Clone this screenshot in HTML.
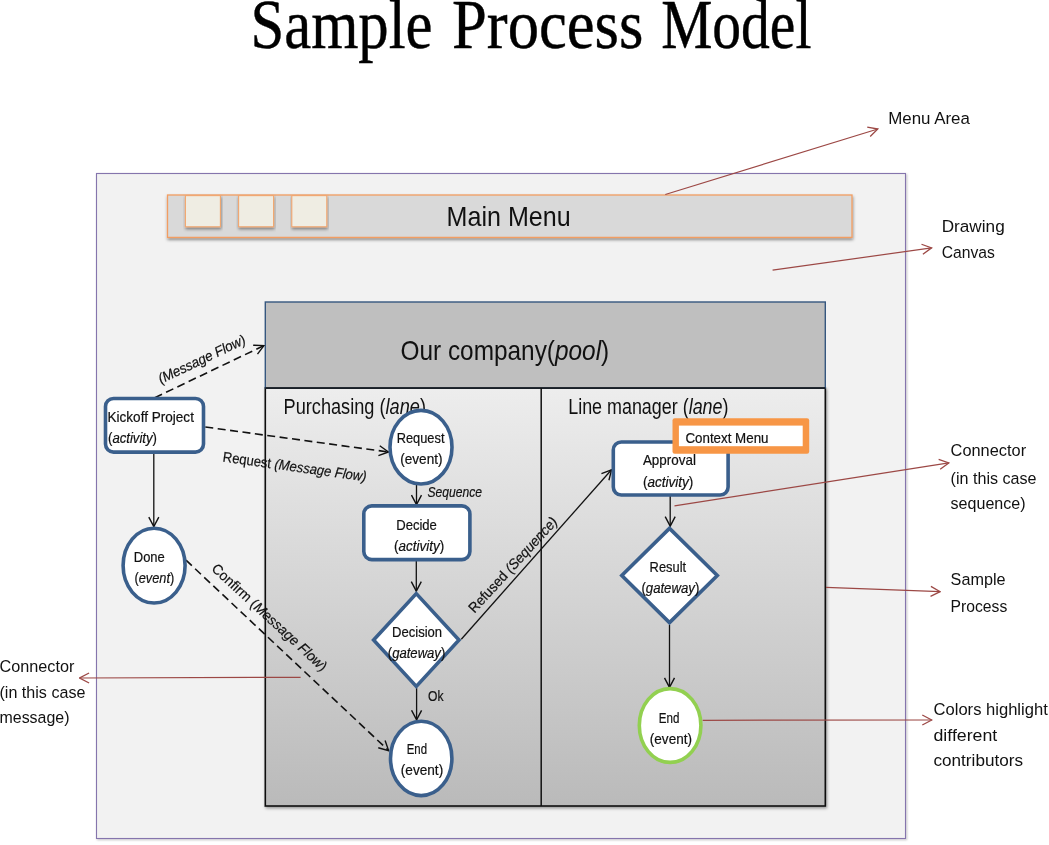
<!DOCTYPE html>
<html lang="en"><head><meta charset="utf-8"><title>Sample Process Model</title>
<style>html,body{margin:0;padding:0;background:#fff}body{width:1049px;height:845px;overflow:hidden}svg{display:block;will-change:transform}text{white-space:pre}</style>
</head><body>
<svg width="1049" height="845" viewBox="0 0 1049 845" font-family='"Liberation Sans", Arial, sans-serif'>
<defs>
<linearGradient id="lane" x1="0" y1="0" x2="0" y2="1"><stop offset="0" stop-color="#ededed"/><stop offset="1" stop-color="#bababa"/></linearGradient>
<filter id="sh" x="-5%" y="-20%" width="110%" height="150%"><feDropShadow dx="0.5" dy="2" stdDeviation="1.4" flood-color="#000" flood-opacity="0.42"/></filter>
<filter id="sh2" x="-5%" y="-5%" width="110%" height="110%"><feDropShadow dx="1" dy="1.5" stdDeviation="1.5" flood-color="#000" flood-opacity="0.4"/></filter>
<filter id="sh3" x="-5%" y="-5%" width="110%" height="110%"><feDropShadow dx="1" dy="1" stdDeviation="1.2" flood-color="#000" flood-opacity="0.25"/></filter>
<marker id="ab" viewBox="0 0 12 12" refX="11" refY="6" markerWidth="12" markerHeight="12" markerUnits="userSpaceOnUse" orient="auto"><path d="M1.5,1 L11,6 L1.5,11" fill="none" stroke="#111" stroke-width="1.4"/></marker>
<marker id="ar" viewBox="0 0 12 12" refX="11" refY="6" markerWidth="12" markerHeight="12" markerUnits="userSpaceOnUse" orient="auto"><path d="M1.5,1 L11,6 L1.5,11" fill="none" stroke="#9c4845" stroke-width="1.3"/></marker>
</defs>
<rect width="1049" height="845" fill="#fff"/>
<text x="250.5" y="47.5" font-size="70" fill="#000" textLength="182" lengthAdjust="spacingAndGlyphs" font-family='"Liberation Serif", "Times New Roman", serif' stroke="#000" stroke-width="0.45">Sample</text>
<text x="452" y="47.5" font-size="70" fill="#000" textLength="191.3" lengthAdjust="spacingAndGlyphs" font-family='"Liberation Serif", "Times New Roman", serif' stroke="#000" stroke-width="0.45">Process</text>
<text x="661.2" y="47.5" font-size="70" fill="#000" textLength="150.2" lengthAdjust="spacingAndGlyphs" font-family='"Liberation Serif", "Times New Roman", serif' stroke="#000" stroke-width="0.45">Model</text>
<rect x="96.5" y="173.5" width="809" height="665" fill="#f2f2f2" stroke="#8574ad" stroke-width="1.1" filter="url(#sh3)"/>
<rect x="167.5" y="195" width="684.5" height="42.4" fill="#d9d9d9" stroke="#f29d62" stroke-width="1.3" filter="url(#sh)"/>
<rect x="185.4" y="195.6" width="35" height="31.2" fill="#efede3" stroke="#f2a66f" stroke-width="1.1" filter="url(#sh)"/>
<rect x="238.6" y="195.6" width="35" height="31.2" fill="#efede3" stroke="#f2a66f" stroke-width="1.1" filter="url(#sh)"/>
<rect x="291.8" y="195.6" width="35" height="31.2" fill="#efede3" stroke="#f2a66f" stroke-width="1.1" filter="url(#sh)"/>
<text x="446.6" y="226.4" font-size="28" fill="#111" textLength="124" lengthAdjust="spacingAndGlyphs">Main Menu</text>
<g filter="url(#sh2)"><rect x="265.3" y="388" width="560" height="418" fill="url(#lane)" stroke="#111" stroke-width="1.6"/></g>
<rect x="265.3" y="302" width="560" height="86" fill="#bfbfbf" stroke="#36577f" stroke-width="1.4"/>
<line x1="265.3" y1="388" x2="825.3" y2="388" stroke="#111" stroke-width="1.6"/>
<line x1="541.2" y1="388" x2="541.2" y2="806" stroke="#111" stroke-width="1.5"/>
<text x="400.5" y="359.6" font-size="27.5" fill="#111" textLength="208.7" lengthAdjust="spacingAndGlyphs">Our company(<tspan font-style="italic">pool</tspan>)</text>
<text x="283.5" y="414" font-size="22" fill="#111" textLength="142.5" lengthAdjust="spacingAndGlyphs">Purchasing (<tspan font-style="italic">lane</tspan>)</text>
<text x="568.2" y="414.1" font-size="22" fill="#111" textLength="160.3" lengthAdjust="spacingAndGlyphs">Line manager (<tspan font-style="italic">lane</tspan>)</text>
<line x1="154.8" y1="397.7" x2="263.9" y2="345.6" stroke="#111" stroke-width="1.6" stroke-dasharray="8 4.5" marker-end="url(#ab)"/>
<line x1="205.3" y1="427" x2="388.5" y2="452" stroke="#111" stroke-width="1.6" stroke-dasharray="8 4.5" marker-end="url(#ab)"/>
<line x1="153.8" y1="453" x2="153.8" y2="526.6" stroke="#111" stroke-width="1.3" marker-end="url(#ab)"/>
<line x1="186" y1="560.2" x2="388.6" y2="750.6" stroke="#111" stroke-width="1.6" stroke-dasharray="8 4.5" marker-end="url(#ab)"/>
<line x1="416.5" y1="485" x2="416.5" y2="504.6" stroke="#111" stroke-width="1.3" marker-end="url(#ab)"/>
<line x1="416.3" y1="561" x2="416.3" y2="591.2" stroke="#111" stroke-width="1.3" marker-end="url(#ab)"/>
<line x1="416.6" y1="688" x2="416.6" y2="719.8" stroke="#111" stroke-width="1.3" marker-end="url(#ab)"/>
<line x1="461.3" y1="639.2" x2="611.5" y2="469.8" stroke="#111" stroke-width="1.3" marker-end="url(#ab)"/>
<line x1="670.2" y1="496" x2="670.2" y2="526.2" stroke="#111" stroke-width="1.3" marker-end="url(#ab)"/>
<line x1="669.5" y1="625" x2="669.5" y2="687.4" stroke="#111" stroke-width="1.3" marker-end="url(#ab)"/>
<rect x="105.5" y="398.5" width="98.0" height="53.6" rx="8" ry="8" fill="#fff" stroke="#3a5f8c" stroke-width="3.6"/>
<ellipse cx="154.1" cy="565.6" rx="31.0" ry="37.4" fill="#fff" stroke="#3a5f8c" stroke-width="3.6"/>
<ellipse cx="421.0" cy="447.2" rx="31.0" ry="36.8" fill="#fff" stroke="#3a5f8c" stroke-width="3.6"/>
<rect x="363.8" y="505.9" width="106.1" height="53.7" rx="8" ry="8" fill="#fff" stroke="#3a5f8c" stroke-width="3.6"/>
<polygon points="416.3,593.6 459.0,640.0 416.3,686.4 373.6,640.0" fill="#fff" stroke="#3a5f8c" stroke-width="3.6" stroke-linejoin="miter"/>
<ellipse cx="421.2" cy="758.4" rx="30.7" ry="37.2" fill="#fff" stroke="#3a5f8c" stroke-width="3.6"/>
<rect x="613.3" y="442.0" width="114.8" height="53.0" rx="8" ry="8" fill="#fff" stroke="#3a5f8c" stroke-width="3.6"/>
<polygon points="669.5,528.4 717.3,575.5 669.5,622.6 621.8,575.5" fill="#fff" stroke="#3a5f8c" stroke-width="3.6" stroke-linejoin="miter"/>
<ellipse cx="670.1" cy="725.5" rx="30.8" ry="36.9" fill="#fff" stroke="#92d050" stroke-width="3.6"/>
<rect x="672.5" y="418.3" width="136.7" height="35.5" rx="2.2" fill="#f79646"/><rect x="678.9" y="425.6" width="123.8" height="20.6" fill="#fff"/>
<text x="107.5" y="421.9" font-size="14.2" fill="#111" textLength="86.4" lengthAdjust="spacingAndGlyphs" stroke="#111" stroke-width="0.2">Kickoff Project</text>
<text x="108" y="442.5" font-size="14.2" fill="#111" textLength="49" lengthAdjust="spacingAndGlyphs" stroke="#111" stroke-width="0.2">(<tspan font-style="italic">activity</tspan>)</text>
<text x="133.8" y="562" font-size="14.2" fill="#111" textLength="31" lengthAdjust="spacingAndGlyphs" stroke="#111" stroke-width="0.2">Done</text>
<text x="134.5" y="583.2" font-size="14.2" fill="#111" textLength="39.8" lengthAdjust="spacingAndGlyphs" stroke="#111" stroke-width="0.2">(<tspan font-style="italic">event</tspan>)</text>
<text x="396.7" y="442.9" font-size="14.2" fill="#111" textLength="47.8" lengthAdjust="spacingAndGlyphs" stroke="#111" stroke-width="0.2">Request</text>
<text x="400.2" y="464.3" font-size="14.2" fill="#111" textLength="42.3" lengthAdjust="spacingAndGlyphs" stroke="#111" stroke-width="0.2">(event)</text>
<text x="396.2" y="529.7" font-size="14.2" fill="#111" textLength="40.7" lengthAdjust="spacingAndGlyphs" stroke="#111" stroke-width="0.2">Decide</text>
<text x="394.1" y="551.3" font-size="14.2" fill="#111" textLength="50.1" lengthAdjust="spacingAndGlyphs" stroke="#111" stroke-width="0.2">(<tspan font-style="italic">activity</tspan>)</text>
<text x="392" y="636.6" font-size="14.2" fill="#111" textLength="50.1" lengthAdjust="spacingAndGlyphs" stroke="#111" stroke-width="0.2">Decision</text>
<text x="387.8" y="658" font-size="14.2" fill="#111" textLength="57.5" lengthAdjust="spacingAndGlyphs" stroke="#111" stroke-width="0.2">(<tspan font-style="italic">gateway</tspan>)</text>
<text x="406.7" y="754.4" font-size="14.2" fill="#111" textLength="20.3" lengthAdjust="spacingAndGlyphs" stroke="#111" stroke-width="0.2">End</text>
<text x="400.8" y="775.4" font-size="14.2" fill="#111" textLength="42.4" lengthAdjust="spacingAndGlyphs" stroke="#111" stroke-width="0.2">(event)</text>
<text x="642.9" y="464.6" font-size="14.2" fill="#111" textLength="53" lengthAdjust="spacingAndGlyphs" stroke="#111" stroke-width="0.2">Approval</text>
<text x="642.9" y="486.8" font-size="14.2" fill="#111" textLength="50.4" lengthAdjust="spacingAndGlyphs" stroke="#111" stroke-width="0.2">(<tspan font-style="italic">activity</tspan>)</text>
<text x="649.6" y="572.2" font-size="14.2" fill="#111" textLength="36.5" lengthAdjust="spacingAndGlyphs" stroke="#111" stroke-width="0.2">Result</text>
<text x="641.4" y="592.8" font-size="14.2" fill="#111" textLength="57.9" lengthAdjust="spacingAndGlyphs" stroke="#111" stroke-width="0.2">(<tspan font-style="italic">gateway</tspan>)</text>
<text x="658.8" y="722.8" font-size="14.2" fill="#111" textLength="20.6" lengthAdjust="spacingAndGlyphs" stroke="#111" stroke-width="0.2">End</text>
<text x="649.8" y="743.5" font-size="14.2" fill="#111" textLength="42.2" lengthAdjust="spacingAndGlyphs" stroke="#111" stroke-width="0.2">(event)</text>
<text x="685.4" y="443.3" font-size="14.2" fill="#111" textLength="83.1" lengthAdjust="spacingAndGlyphs" stroke="#111" stroke-width="0.2">Context Menu</text>
<text x="427.5" y="497" font-size="14.2" fill="#111" textLength="54.5" lengthAdjust="spacingAndGlyphs" font-style="italic" stroke="#111" stroke-width="0.2">Sequence</text>
<text x="428.1" y="700.5" font-size="14.2" fill="#111" textLength="15.5" lengthAdjust="spacingAndGlyphs" stroke="#111" stroke-width="0.2">Ok</text>
<text x="161" y="384" font-size="14.2" fill="#111" textLength="95" lengthAdjust="spacingAndGlyphs" font-style="italic" transform="rotate(-25.5 161 384)" stroke="#111" stroke-width="0.2">(Message Flow)</text>
<text x="222.3" y="461.5" font-size="14.2" fill="#111" textLength="145" lengthAdjust="spacingAndGlyphs" transform="rotate(7.9 222.3 461.5)" stroke="#111" stroke-width="0.2">Request <tspan font-style="italic">(Message Flow)</tspan></text>
<text x="210.7" y="569.8" font-size="14.2" fill="#111" textLength="151" lengthAdjust="spacingAndGlyphs" transform="rotate(42.6 210.7 569.8)" stroke="#111" stroke-width="0.2">Confirm (<tspan font-style="italic">Message Flow</tspan>)</text>
<text x="474.6" y="613.8" font-size="14.2" fill="#111" textLength="124" lengthAdjust="spacingAndGlyphs" transform="rotate(-47.5 474.6 613.8)" stroke="#111" stroke-width="0.2">Refused <tspan font-style="italic">(Sequence)</tspan></text>
<line x1="665.3" y1="194.5" x2="877.8" y2="129" stroke="#9c4845" stroke-width="1.2" marker-end="url(#ar)"/>
<line x1="772.6" y1="270.1" x2="931.6" y2="247.9" stroke="#9c4845" stroke-width="1.2" marker-end="url(#ar)"/>
<line x1="674.5" y1="505.8" x2="948.8" y2="462.9" stroke="#9c4845" stroke-width="1.2" marker-end="url(#ar)"/>
<line x1="826" y1="587.3" x2="940.2" y2="591.7" stroke="#9c4845" stroke-width="1.2" marker-end="url(#ar)"/>
<line x1="702.7" y1="720.3" x2="931.8" y2="720" stroke="#9c4845" stroke-width="1.2" marker-end="url(#ar)"/>
<line x1="300.6" y1="677.3" x2="79.6" y2="678" stroke="#9c4845" stroke-width="1.2" marker-end="url(#ar)"/>
<text x="888.2" y="124.3" font-size="16.8" fill="#111" textLength="81.7" lengthAdjust="spacingAndGlyphs">Menu Area</text>
<text x="941.7" y="232.3" font-size="16.8" fill="#111" textLength="63.0" lengthAdjust="spacingAndGlyphs">Drawing</text>
<text x="941.7" y="258.4" font-size="16.8" fill="#111" textLength="53.2" lengthAdjust="spacingAndGlyphs">Canvas</text>
<text x="950.6" y="456.4" font-size="16.8" fill="#111" textLength="75.5" lengthAdjust="spacingAndGlyphs">Connector</text>
<text x="950.6" y="483.8" font-size="16.8" fill="#111" textLength="85.9" lengthAdjust="spacingAndGlyphs">(in this case</text>
<text x="950.6" y="508.5" font-size="16.8" fill="#111" textLength="75.0" lengthAdjust="spacingAndGlyphs">sequence)</text>
<text x="950.6" y="585.2" font-size="16.8" fill="#111" textLength="54.9" lengthAdjust="spacingAndGlyphs">Sample</text>
<text x="950.6" y="612" font-size="16.8" fill="#111" textLength="56.7" lengthAdjust="spacingAndGlyphs">Process</text>
<text x="933.5" y="714.8" font-size="16.8" fill="#111" textLength="114.3" lengthAdjust="spacingAndGlyphs">Colors highlight</text>
<text x="933.5" y="741.3" font-size="16.8" fill="#111" textLength="63.8" lengthAdjust="spacingAndGlyphs">different</text>
<text x="933.5" y="765.7" font-size="16.8" fill="#111" textLength="89.5" lengthAdjust="spacingAndGlyphs">contributors</text>
<text x="-0.5" y="671.9" font-size="16.8" fill="#111" textLength="74.9" lengthAdjust="spacingAndGlyphs">Connector</text>
<text x="-0.5" y="698.4" font-size="16.8" fill="#111" textLength="85.9" lengthAdjust="spacingAndGlyphs">(in this case</text>
<text x="-0.5" y="723.4" font-size="16.8" fill="#111" textLength="70.0" lengthAdjust="spacingAndGlyphs">message)</text>
</svg>
</body></html>
